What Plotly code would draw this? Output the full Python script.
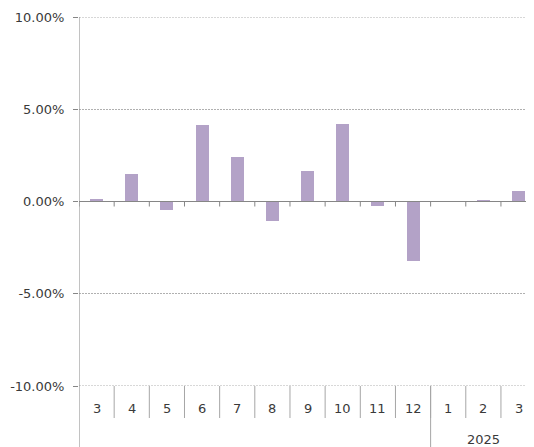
import plotly.graph_objects as go

months = ["3", "4", "5", "6", "7", "8", "9", "10", "11", "12", "1", "2", "3"]
values = [0.0015, 0.0147, -0.0045, 0.0417, 0.0241, -0.0105, 0.0168, 0.0422, -0.0026, -0.032, 0.0, 0.001, 0.0055]
year_groups = [("", 0, 9), ("2025", 10, 12)]
y_ticks = [-0.10, -0.05, 0.0, 0.05, 0.10]
y_tick_labels = ["-10.00%", "-5.00%", "0.00%", "5.00%", "10.00%"]

FONT = "DejaVu Sans"
TXT = "#3a3a3a"
AXIS = "#868686"
GRID = "#b0b0b0"

x = list(range(len(months)))

fig = go.Figure(go.Bar(
    x=x, y=values, width=0.37,
    marker=dict(color="#b3a2c7", line=dict(width=0)),
    cliponaxis=False,
))

shapes = []
# edge gridlines (top / bottom of value range)
for yv in (y_ticks[0], y_ticks[-1]):
    shapes.append(dict(type="line", xref="paper", yref="y", x0=0, x1=1, y0=yv, y1=yv,
                       line=dict(color=GRID, width=1, dash="2px,1px"), layer="below"))
for i in range(len(months) + 1):
    b = i - 0.5
    shapes.append(dict(type="line", xref="x", yref="y", ysizemode="pixel", yanchor=0,
                       x0=b, x1=b, y0=0, y1=-5, line=dict(color=AXIS, width=1)))
shapes.append(dict(type="line", xref="paper", yref="y", x0=0, x1=1, y0=0, y1=0,
                   line=dict(color=AXIS, width=1), layer="above"))
for i in range(1, len(months)):
    b = i - 0.5
    shapes.append(dict(type="line", xref="x", yref="paper", ysizemode="pixel", yanchor=0,
                       x0=b, x1=b, y0=0, y1=-32, line=dict(color="#a6a6a6", width=1)))
for name, s, e in year_groups[1:]:
    b = s - 0.5
    shapes.append(dict(type="line", xref="x", yref="paper", ysizemode="pixel", yanchor=0,
                       x0=b, x1=b, y0=0, y1=-61, line=dict(color="#a6a6a6", width=1)))
shapes.append(dict(type="line", xref="x", yref="paper", ysizemode="pixel", yanchor=1,
                   x0=-0.5, x1=-0.5, y0=0, y1=-430, line=dict(color=AXIS, width=1)))

annotations = []
for i, m in enumerate(months):
    annotations.append(dict(x=i, y=0, xref="x", yref="paper", text=m, showarrow=False,
                            yanchor="middle", yshift=-22, font=dict(family=FONT, size=13, color=TXT)))
for name, s, e in year_groups:
    if name:
        annotations.append(dict(x=(s + e) / 2, y=0, xref="x", yref="paper", text=name, showarrow=False,
                                yanchor="middle", yshift=-53, font=dict(family=FONT, size=13, color=TXT)))

fig.update_layout(
    width=526, height=439,
    margin=dict(l=71, r=0, t=9, b=61, autoexpand=False),
    paper_bgcolor="white", plot_bgcolor="white",
    showlegend=False,
    bargap=0,
    xaxis=dict(range=[-0.5, 12.44], showticklabels=False, showgrid=False, zeroline=False,
               showline=False, ticks="", fixedrange=True, automargin=False),
    yaxis=dict(range=[-0.10, 0.10], tickvals=y_ticks, ticktext=y_tick_labels,
               showgrid=True, gridcolor=GRID, griddash="2px,1px", gridwidth=1,
               zeroline=False, showline=False, ticks="outside", ticklen=5, tickcolor=AXIS,
               tickfont=dict(family=FONT, size=13, color=TXT), ticklabelstandoff=6,
               automargin=False),
    shapes=shapes,
    annotations=annotations,
)

fig.write_html("out.html")
